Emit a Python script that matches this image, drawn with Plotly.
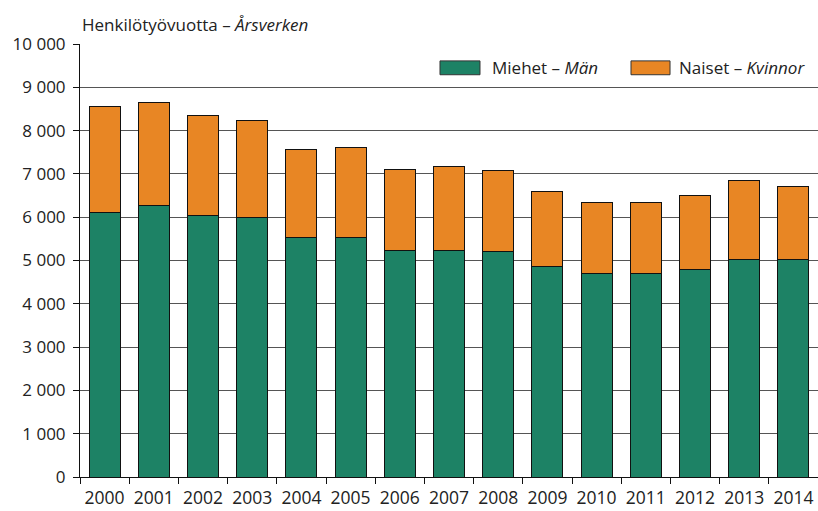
import plotly.graph_objects as go

years = [str(y) for y in range(2000, 2015)]
men = [6120, 6280, 6050, 6000, 5540, 5540, 5220, 5220, 5200, 4870, 4710, 4710, 4800, 5030, 5030]
total = [8560, 8640, 8360, 8240, 7570, 7620, 7110, 7160, 7070, 6600, 6350, 6350, 6490, 6840, 6720]
women = [t - m for t, m in zip(total, men)]
series_names = ["Miehet – <i>Män</i>", "Naiset – <i>Kvinnor</i>"]

ytick_vals = list(range(0, 10001, 1000))
ytick_text = ["0", "1 000", "2 000", "3 000", "4 000", "5 000", "6 000", "7 000", "8 000", "9 000", "10 000"]

GREEN = "#1d8265"
ORANGE = "#e88624"
FONT = "Open Sans, DejaVu Sans, sans-serif"

fig = go.Figure()
for vals, name, col in [(men, series_names[0], GREEN), (women, series_names[1], ORANGE)]:
    fig.add_trace(go.Bar(x=years, y=vals, name=name,
                         marker=dict(color=col, line=dict(color="#111", width=1))))

# custom legend (wide swatches like the reference)
legend_items = [(series_names[0], GREEN, 0.4878, 0.5420, 0.5556),
                (series_names[1], ORANGE, 0.7466, 0.7995, 0.8089)]
shapes = []
annotations = [dict(text="Henkilötyövuotta – <i>Årsverken</i>", x=0, xref="paper",
                    xanchor="left", y=1, yref="paper", yanchor="bottom", yshift=6,
                    showarrow=False, font=dict(size=17))]
for name, col, x0, x1, xt in legend_items:
    shapes.append(dict(type="rect", xref="paper", yref="paper", x0=x0, x1=x1,
                       y0=0.929, y1=0.961, fillcolor=col, line=dict(color="#333", width=1)))
    annotations.append(dict(text=name, x=xt, xref="paper", xanchor="left",
                            y=0.945, yref="paper", yanchor="middle",
                            showarrow=False, font=dict(size=17)))

fig.update_layout(
    barmode="stack",
    bargap=0.37,
    width=818, height=511,
    margin=dict(l=80, r=0, t=44, b=34, autoexpand=False),
    plot_bgcolor="white", paper_bgcolor="white",
    font=dict(family=FONT, size=17, color="#222"),
    showlegend=False,
    shapes=shapes,
    annotations=annotations,
)
fig.update_yaxes(range=[0, 10000], tickvals=ytick_vals, ticktext=ytick_text,
                 showgrid=True, gridcolor="#555", gridwidth=1,
                 showline=True, linecolor="#111", linewidth=1,
                 ticks="outside", ticklen=6, tickcolor="#111", zeroline=False,
                 automargin=False, ticklabelstandoff=4)
fig.update_xaxes(type="category", tickson="boundaries", ticks="outside", ticklen=6,
                 tickcolor="#111", showline=True, linecolor="#111", linewidth=1,
                 showgrid=False, automargin=False, tickfont=dict(size=17.5),
                 ticklabelstandoff=5)

fig.write_html("out.html", config={"displayModeBar": False},
               post_script="document.body.style.margin='0';")
